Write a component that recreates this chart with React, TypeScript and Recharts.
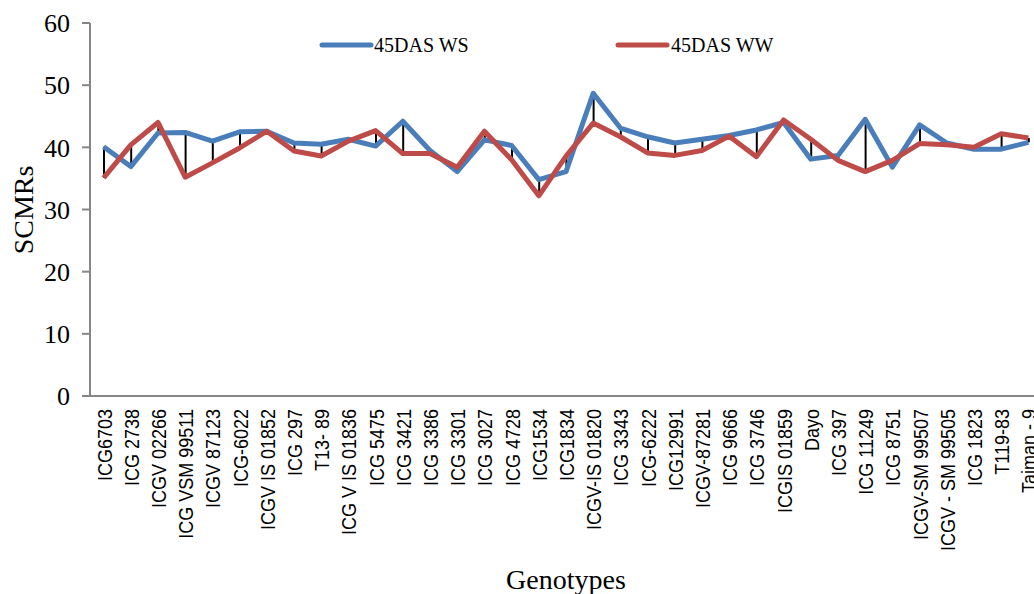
import React from 'react';
import { ComposedChart, Line, Bar, XAxis, YAxis, Legend, Label } from 'recharts';

const categories = [
  'ICG6703', 'ICG 2738', 'ICGV 02266', 'ICG VSM 99511', 'ICGV 87123', 'ICG-6022',
  'ICGV IS 01852', 'ICG 297', 'T13- 89', 'ICG V IS 01836', 'ICG 5475', 'ICG 3421',
  'ICG 3386', 'ICG 3301', 'ICG 3027', 'ICG 4728', 'ICG1534', 'ICG1834',
  'ICGV-IS 01820', 'ICG 3343', 'ICG-6222', 'ICG12991', 'ICGV-87281', 'ICG 9666',
  'ICG 3746', 'ICGIS 01859', 'Dayo', 'ICG 397', 'ICG 11249', 'ICG 8751',
  'ICGV-SM 99507', 'ICGV - SM 99505', 'ICG 1823', 'T119-83', 'Taiman - 9',
];

const ws45 = [
  40.1, 36.9, 42.3, 42.4, 41.0, 42.5, 42.6, 40.7, 40.5, 41.3, 40.2, 44.2,
  39.5, 36.1, 41.2, 40.3, 34.8, 36.1, 48.7, 43.1, 41.7, 40.7, 41.3, 41.9,
  42.8, 44.0, 38.1, 38.7, 44.5, 36.8, 43.6, 40.7, 39.7, 39.7, 40.8,
];

const ww45 = [
  35.1, 40.4, 44.0, 35.2, 37.5, 39.9, 42.6, 39.4, 38.6, 41.0, 42.7, 39.0,
  39.0, 36.8, 42.6, 38.0, 32.2, 38.6, 43.9, 41.7, 39.1, 38.7, 39.5, 41.8,
  38.5, 44.4, 41.3, 37.9, 36.1, 37.9, 40.6, 40.4, 40.0, 42.2, 41.5,
];

const yTicks = [0, 10, 20, 30, 40, 50, 60];

const data = categories.map((name, i) => ({
  name,
  ws: ws45[i],
  ww: ww45[i],
  hl: [Math.min(ws45[i], ww45[i]), Math.max(ws45[i], ww45[i])],
}));

const BLUE = '#4A7EBB';
const RED = '#BE4B48';
const AXIS = '#868686';
const SERIF = "'Liberation Serif', 'Times New Roman', serif";
const SANS = "'Liberation Sans', Arial, sans-serif";

const XTick = (props: any) => {
  const { x, y, payload } = props;
  return (
    <text
      transform={`translate(${x + 8},${y + 13}) rotate(-90) scale(0.9,1)`}
      textAnchor="end"
      fontFamily={SANS}
      fontSize={20}
      fill="#000"
    >
      {payload.value}
    </text>
  );
};

const LegendContent = () => (
  <svg width={1050} height={70} style={{ display: 'block' }}>
    <line x1={322} y1={45} x2={371} y2={45} stroke={BLUE} strokeWidth={5} strokeLinecap="round" />
    <text x={374} y={52} fontFamily={SERIF} fontSize={20} fill="#000">45DAS WS</text>
    <line x1={618} y1={45} x2={667} y2={45} stroke={RED} strokeWidth={5} strokeLinecap="round" />
    <text x={671} y={52} fontFamily={SERIF} fontSize={20} fill="#000">45DAS WW</text>
  </svg>
);

export default function App() {
  return (
    <div style={{ position: 'absolute', left: 0, top: 0, width: 1034, height: 594, overflow: 'hidden', background: '#fff' }}>
      <ComposedChart
        width={1050}
        height={594}
        data={data}
        margin={{ top: 23, right: 8, bottom: 0, left: 0 }}
      >
        <XAxis
          dataKey="name"
          interval={0}
          tickLine={false}
          tickSize={0}
          tickMargin={0}
          height={198}
          stroke={AXIS}
          strokeWidth={2}
          tick={<XTick />}
        >
          <Label
            content={() => (
              <text x={566} y={589} textAnchor="middle" fontFamily={SERIF} fontSize={28} fill="#000">
                Genotypes
              </text>
            )}
          />
        </XAxis>
        <YAxis
          width={90}
          domain={[0, 60]}
          ticks={yTicks}
          interval={0}
          tickSize={8}
          tickMargin={12}
          stroke={AXIS}
          strokeWidth={2}
          tick={{ fill: '#000', fontFamily: SERIF, fontSize: 26 }}
        >
          <Label
            content={() => (
              <text
                x={23}
                y={210}
                transform="rotate(-90 23 210)"
                textAnchor="middle"
                dominantBaseline="central"
                fontFamily={SERIF}
                fontSize={28}
                fill="#000"
              >
                SCMRs
              </text>
            )}
          />
        </YAxis>
        <Legend
          verticalAlign="middle"
          align="center"
          wrapperStyle={{ top: 0, left: 0, width: 1050, height: 70 }}
          content={<LegendContent />}
        />
        <Line
          dataKey="ws"
          stroke={BLUE}
          strokeWidth={5}
          dot={false}
          activeDot={false}
          isAnimationActive={false}
          strokeLinejoin="round"
        />
        <Line
          dataKey="ww"
          stroke={RED}
          strokeWidth={5}
          dot={false}
          activeDot={false}
          isAnimationActive={false}
          strokeLinejoin="round"
        />
        <Bar dataKey="hl" barSize={2} fill="#000" isAnimationActive={false} />
      </ComposedChart>
    </div>
  );
}
